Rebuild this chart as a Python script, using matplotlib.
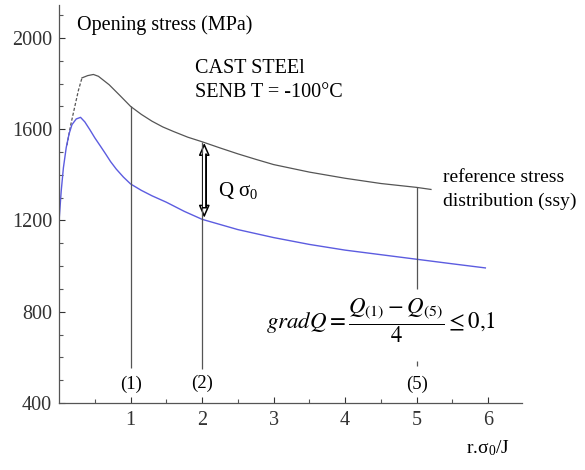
import matplotlib.pyplot as plt
from matplotlib.patches import FancyArrowPatch

plt.rcParams['font.family'] = ['Liberation Serif', 'DejaVu Serif']
plt.rcParams['mathtext.fontset'] = 'stix'

# reference (ssy) stress distribution, gray
ref_x = [0.32, 0.4, 0.48, 0.55, 0.7, 0.85, 1.0, 1.15, 1.3, 1.45, 1.6, 1.8, 2.0, 2.25,
         2.5, 2.75, 3.0, 3.5, 4.0, 4.5, 5.0, 5.2]
ref_y = [1825, 1835, 1840, 1832, 1795, 1748, 1700, 1665, 1635, 1610, 1590, 1565, 1545, 1518,
         1492, 1468, 1445, 1412, 1385, 1362, 1345, 1336]
# dashed start of the reference curve
ref_dash_x = [0.11, 0.16, 0.22, 0.27, 0.32]
ref_dash_y = [1530, 1615, 1700, 1770, 1825]

# computed opening stress, blue
blue_x = [0.0, 0.03, 0.06, 0.1, 0.14, 0.18, 0.24, 0.3, 0.36, 0.43, 0.5, 0.58, 0.65, 0.72,
          0.8, 0.9, 1.0, 1.15, 1.3, 1.5, 1.75, 2.0, 2.5, 3.0, 3.5, 4.0, 4.5, 5.0, 5.5, 5.96]
blue_y = [1200, 1330, 1430, 1520, 1580, 1620, 1645, 1652, 1632, 1598, 1562, 1525, 1492, 1458,
          1425, 1390, 1360, 1332, 1308, 1280, 1240, 1205, 1160, 1125, 1095, 1070, 1050, 1030,
          1010, 992]

# vertical markers at r.sigma0/J = 1, 2, 5
mark_x = [1, 2, 5]
mark_top = [1700, 1545, 1345]
mark_bot = [555, 548, 900]
mark_lab = ['(1)', '(2)', '(5)']
mark_lab_y = [480, 487, 482]

fig = plt.figure(figsize=(5.85, 4.70), dpi=100)
ax = fig.add_axes([0.101, 0.1426, 0.791, 0.847])

ax.plot(ref_x, ref_y, color='#555555', lw=0.9)
ax.plot(ref_dash_x, ref_dash_y, color='#555555', lw=0.9, ls=(0, (2.5, 1.5)))
ax.plot(blue_x, blue_y, color='#5c5ce0', lw=1.0)

ax.vlines(mark_x, mark_bot, mark_top, color='#555555', lw=0.9)
ax.vlines([5], [560], [585], color='#555555', lw=0.9)
for x, lab, y in zip(mark_x, mark_lab, mark_lab_y):
    ax.text(x, y, lab, ha='center', va='center', fontsize=13.5)

# Q sigma0 hollow double arrow
arr_x, arr_top, arr_bot, head = 2.03, 1540, 1212, 44
ax.plot([arr_x, arr_x], [arr_top - head, arr_bot + head], color='black', lw=3.6,
        solid_capstyle='butt')
ax.plot([arr_x, arr_x], [arr_top - head - 2, arr_bot + head + 2], color='white', lw=1.6,
        solid_capstyle='butt')
for base, tip in [(arr_top - head, arr_top), (arr_bot + head, arr_bot)]:
    ax.add_patch(FancyArrowPatch((arr_x, base), (arr_x, tip),
                                 arrowstyle='-|>,head_width=0.33,head_length=0.75',
                                 mutation_scale=10, fc='white', ec='black', lw=1.1,
                                 shrinkA=0, shrinkB=0))
ax.text(2.22, 1330, r'Q $\mathregular{\sigma_0}$', fontsize=15, va='center')

ax.text(0.25, 2055, 'Opening stress (MPa)', fontsize=14.5, va='center')
ax.text(1.9, 1865, 'CAST STEEl', fontsize=14.5, va='center')
ax.text(1.9, 1762, 'SENB T = -100°C', fontsize=14.5, va='center')
ax.text(5.37, 1390, 'reference stress', fontsize=14, va='center')
ax.text(5.37, 1283, 'distribution (ssy)', fontsize=14, va='center')
ax.text(2.9, 762, r'$gradQ=\dfrac{Q_{(1)}-Q_{(5)}}{4}\leq 0{,}1$', fontsize=16.5,
        va='center')
fig.text(0.797, 0.035, r'r.$\mathregular{\sigma_{0}}$/J', fontsize=14)

ax.set_xlim(0, 6.47)
ax.set_ylim(400, 2145)
ax.set_xticks([1, 2, 3, 4, 5, 6])
ax.set_xticks([0.5 * i for i in range(1, 13)], minor=True)
ax.set_yticks([400, 800, 1200, 1600, 2000])
ax.set_yticks(list(range(500, 2101, 100)), minor=True)
ax.tick_params(direction='in', length=4, width=0.8, labelsize=14.5, colors='#333333')
ax.tick_params(which='minor', direction='in', length=3, width=0.8, colors='#555555')
ax.tick_params(axis='x', pad=6)
ax.tick_params(axis='y', pad=5)
ax.spines['top'].set_visible(False)
ax.spines['right'].set_visible(False)
for s in ['left', 'bottom']:
    ax.spines[s].set_color('#555555')
    ax.spines[s].set_linewidth(0.9)

fig.savefig('out.png', dpi=100)
